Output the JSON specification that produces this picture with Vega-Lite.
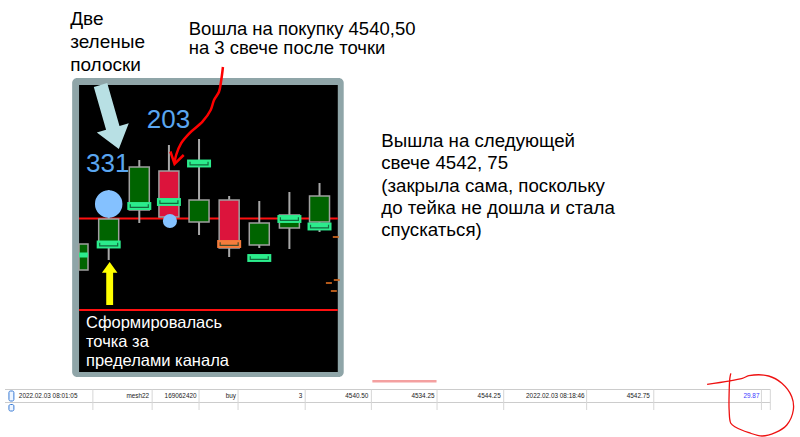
{
  "$schema": "https://vega.github.io/schema/vega-lite/v6.json",
  "width": 800,
  "height": 437,
  "autosize": "none",
  "padding": 0,
  "background": "white",
  "config": {"view": {"stroke": null}},
  "encoding": {
    "x": {"field": "x", "type": "quantitative", "scale": {"domain": [0, 800], "nice": false, "zero": false}, "axis": null},
    "y": {"field": "y", "type": "quantitative", "scale": {"domain": [0, 437], "nice": false, "zero": false, "reverse": true}, "axis": null}
  },
  "layer": [
    {
      "data": {"values": [{"x": 68, "x2": 343, "y": 78, "y2": 377}]},
      "mark": {"type": "rect", "fill": "#8fa5a8", "cornerRadius": 5},
      "encoding": {"x2": {"field": "x2"}, "y2": {"field": "y2"}}
    },
    {
      "data": {"values": [{"x": 75, "x2": 337, "y": 85, "y2": 372}]},
      "mark": {"type": "rect", "fill": "#000000"},
      "encoding": {"x2": {"field": "x2"}, "y2": {"field": "y2"}}
    },
    {
      "data": {"values": [{"x": 75, "x2": 337, "y": 218.5}, {"x": 75, "x2": 337, "y": 310}]},
      "mark": {"type": "rule", "color": "#ff1010", "strokeWidth": 2},
      "encoding": {"x2": {"field": "x2"}}
    },
    {
      "data": {"values": [
        {"x": 105, "y": 190, "y2": 260},
        {"x": 136, "y": 160, "y2": 223},
        {"x": 166, "y": 145, "y2": 225},
        {"x": 196.5, "y": 139, "y2": 235},
        {"x": 227, "y": 196, "y2": 257},
        {"x": 257.5, "y": 201, "y2": 248},
        {"x": 288, "y": 192, "y2": 249},
        {"x": 318.5, "y": 183, "y2": 232}
      ]},
      "mark": {"type": "rule", "color": "#a8a8a8", "strokeWidth": 2},
      "encoding": {"y2": {"field": "y2"}}
    },
    {
      "data": {"values": [
        {"x": 105, "y": 219, "y2": 247, "dir": "up"},
        {"x": 136, "y": 167, "y2": 210, "dir": "up"},
        {"x": 166, "y": 171, "y2": 217, "dir": "down"},
        {"x": 196.5, "y": 200, "y2": 222, "dir": "up"},
        {"x": 227, "y": 200, "y2": 248, "dir": "down"},
        {"x": 257.5, "y": 223, "y2": 245, "dir": "up"},
        {"x": 288, "y": 215, "y2": 228, "dir": "up"},
        {"x": 318.5, "y": 196, "y2": 222, "dir": "up"}
      ]},
      "mark": {"type": "bar", "width": 20, "stroke": "#a0a0a0", "strokeWidth": 1.5},
      "encoding": {
        "y2": {"field": "y2"},
        "color": {"field": "dir", "type": "nominal", "scale": {"domain": ["up", "down"], "range": ["#006400", "#dc143c"]}, "legend": null}
      }
    },
    {
      "data": {"values": [{"x": 79.5, "y": 244, "y2": 270}]},
      "mark": {"type": "bar", "width": 9, "fill": "#006400", "stroke": "#a0a0a0", "strokeWidth": 1.5},
      "encoding": {"y2": {"field": "y2"}}
    },
    {
      "data": {"values": [{"x": 75, "x2": 84, "y": 255}]},
      "mark": {"type": "rule", "color": "#2bec8c", "strokeWidth": 5},
      "encoding": {"x2": {"field": "x2"}}
    },
    {
      "data": {"values": [
        {"x": 105, "y": 244.5},
        {"x": 136, "y": 206},
        {"x": 166, "y": 202},
        {"x": 196.5, "y": 163.5},
        {"x": 257.5, "y": 258},
        {"x": 288, "y": 219},
        {"x": 318.5, "y": 226.5}
      ]},
      "mark": {"type": "point", "shape": "M -1 -0.33 L 1 -0.33 L 1 0.33 L -1 0.33 Z", "size": 576, "filled": true, "opacity": 1, "color": "#2bec8c"}
    },
    {
      "data": {"values": [{"x": 227, "y": 244}]},
      "mark": {"type": "point", "shape": "M -1 -0.33 L 1 -0.33 L 1 0.33 L -1 0.33 Z", "size": 576, "filled": true, "opacity": 1, "color": "#f47c3c"}
    },
    {
      "data": {"values": [
        {"x": 105, "y": 244.5},
        {"x": 136, "y": 206},
        {"x": 166, "y": 202},
        {"x": 196.5, "y": 163.5},
        {"x": 227, "y": 244},
        {"x": 257.5, "y": 258},
        {"x": 288, "y": 219},
        {"x": 318.5, "y": 226.5}
      ]},
      "mark": {"type": "point", "shape": "M -0.75 -0.15 L -0.75 0.12 L 0.75 0.12 L 0.75 -0.15", "size": 576, "filled": false, "opacity": 0.75, "strokeWidth": 1.2, "color": "#0b3d24"}
    },
    {
      "data": {"values": [{"x": 105, "y": 204}]},
      "mark": {"type": "circle", "size": 755, "color": "#84c1ff", "opacity": 1}
    },
    {
      "data": {"values": [{"x": 167, "y": 221}]},
      "mark": {"type": "circle", "size": 200, "color": "#84c1ff", "opacity": 1}
    },
    {
      "data": {"values": [{"x": 335, "y": 237}, {"x": 328, "y": 283}, {"x": 336, "y": 280}, {"x": 333, "y": 291}]},
      "mark": {"type": "point", "shape": "M -1 -0.3 L 1 -0.3 L 1 0.3 L -1 0.3 Z", "size": 36, "filled": true, "opacity": 1, "color": "#c8641e"}
    },
    {
      "data": {"values": [{"x": 104, "y": 172, "t": "331"}, {"x": 165.5, "y": 128, "t": "203"}]},
      "mark": {"type": "text", "align": "center", "baseline": "alphabetic", "fontSize": 26, "font": "Liberation Sans", "color": "#5aa6f0"},
      "encoding": {"text": {"field": "t"}}
    },
    {
      "data": {"values": [{"x": 106, "y": 117}]},
      "mark": {"type": "point", "shape": "M -0.21 -1 L 0.21 -1 L 0.21 0.34 L 0.5 0.34 L 0 1 L -0.5 0.34 L -0.21 0.34 Z", "size": 4420, "angle": 344, "filled": true, "opacity": 1, "color": "#b8e0e4"}
    },
    {
      "data": {"values": [{"x": 106, "y": 283.5}]},
      "mark": {"type": "point", "shape": "M -0.16 -1 L 0.16 -1 L 0.16 0.5 L 0.36 0.5 L 0 1 L -0.36 0.5 L -0.16 0.5 Z", "size": 1849, "angle": 180, "filled": true, "opacity": 1, "color": "#ffff00"}
    },
    {
      "data": {"values": [
        {"x": 220.7, "y": 67, "i": 0},
        {"x": 219, "y": 80, "i": 1},
        {"x": 216.7, "y": 91.7, "i": 2},
        {"x": 211.7, "y": 100, "i": 3},
        {"x": 208.3, "y": 110, "i": 4},
        {"x": 200, "y": 121.7, "i": 5},
        {"x": 186.7, "y": 133.3, "i": 6},
        {"x": 178.3, "y": 143.3, "i": 7},
        {"x": 173.3, "y": 155, "i": 8},
        {"x": 171.7, "y": 163, "i": 9}
      ]},
      "mark": {"type": "line", "color": "#ff0000", "strokeWidth": 2.5, "interpolate": "catmull-rom"},
      "encoding": {"order": {"field": "i", "type": "quantitative"}}
    },
    {
      "data": {"values": [
        {"x": 167.5, "y": 151.5, "i": 0},
        {"x": 171.7, "y": 164, "i": 1},
        {"x": 181, "y": 155, "i": 2}
      ]},
      "mark": {"type": "line", "color": "#ff0000", "strokeWidth": 2.5, "strokeJoin": "miter"},
      "encoding": {"order": {"field": "i", "type": "quantitative"}}
    },
    {
      "data": {"values": [
        {"x": 82, "y": 328, "t": "Сформировалась"},
        {"x": 82, "y": 347, "t": "точка за"},
        {"x": 82, "y": 366, "t": "пределами канала"}
      ]},
      "mark": {"type": "text", "align": "left", "baseline": "alphabetic", "fontSize": 16.5, "font": "Liberation Sans", "color": "#ffffff"},
      "encoding": {"text": {"field": "t"}}
    },
    {
      "data": {"values": [
        {"x": 66, "y": 25, "t": "Две"},
        {"x": 66, "y": 48, "t": "зеленые"},
        {"x": 66, "y": 71, "t": "полоски"}
      ]},
      "mark": {"type": "text", "align": "left", "baseline": "alphabetic", "fontSize": 19, "font": "Liberation Sans", "color": "#000000"},
      "encoding": {"text": {"field": "t"}}
    },
    {
      "data": {"values": [
        {"x": 186, "y": 35, "t": "Вошла на покупку 4540,50"},
        {"x": 186, "y": 54, "t": "на 3 свече после точки"}
      ]},
      "mark": {"type": "text", "align": "left", "baseline": "alphabetic", "fontSize": 18.5, "font": "Liberation Sans", "color": "#000000"},
      "encoding": {"text": {"field": "t"}}
    },
    {
      "data": {"values": [
        {"x": 381, "y": 147, "t": "Вышла на следующей"},
        {"x": 381, "y": 169, "t": "свече 4542, 75"},
        {"x": 381, "y": 191.5, "t": "(закрыла сама, поскольку"},
        {"x": 381, "y": 213.5, "t": "до тейка не дошла и стала"},
        {"x": 381, "y": 235.5, "t": "спускаться)"}
      ]},
      "mark": {"type": "text", "align": "left", "baseline": "alphabetic", "fontSize": 18.7, "font": "Liberation Sans", "color": "#000000"},
      "encoding": {"text": {"field": "t"}}
    },
    {
      "data": {"values": [{"x": 372, "x2": 437, "y": 380, "y2": 382.5}]},
      "mark": {"type": "rect", "fill": "#f4a0a0"},
      "encoding": {"x2": {"field": "x2"}, "y2": {"field": "y2"}}
    },
    {
      "data": {"values": [{"x": 0, "x2": 775, "y": 389.5}, {"x": 0, "x2": 775, "y": 402.5}]},
      "mark": {"type": "rule", "color": "#cccccc", "strokeWidth": 1},
      "encoding": {"x2": {"field": "x2"}}
    },
    {
      "data": {"values": [
        {"x": 89, "y": 389.5, "y2": 410}, {"x": 149, "y": 389.5, "y2": 410}, {"x": 196.5, "y": 389.5, "y2": 410},
        {"x": 236, "y": 389.5, "y2": 410}, {"x": 304, "y": 389.5, "y2": 410}, {"x": 371, "y": 389.5, "y2": 410},
        {"x": 437.5, "y": 389.5, "y2": 410}, {"x": 505, "y": 389.5, "y2": 410}, {"x": 589, "y": 389.5, "y2": 410},
        {"x": 657, "y": 389.5, "y2": 410}, {"x": 766, "y": 389.5, "y2": 410}, {"x": 775, "y": 389.5, "y2": 410}
      ]},
      "mark": {"type": "rule", "color": "#d6d6d6", "strokeWidth": 1},
      "encoding": {"y2": {"field": "y2"}}
    },
    {
      "data": {"values": [{"x": 4, "x2": 9, "y": 391, "y2": 401}, {"x": 4, "x2": 9, "y": 404.5, "y2": 411}]},
      "mark": {"type": "rect", "fill": "#eef5ff", "stroke": "#3a7bd5", "strokeWidth": 1, "cornerRadius": 1.5},
      "encoding": {"x2": {"field": "x2"}, "y2": {"field": "y2"}}
    },
    {
      "data": {"values": [{"x": 14, "y": 396, "t": "2022.02.03 08:01:05"}]},
      "mark": {"type": "text", "align": "left", "baseline": "middle", "fontSize": 6.4, "font": "Liberation Sans", "color": "#222222"},
      "encoding": {"text": {"field": "t"}}
    },
    {
      "data": {"values": [
        {"x": 146, "y": 396, "t": "mesh22"},
        {"x": 194, "y": 396, "t": "169062420"},
        {"x": 234, "y": 396, "t": "buy"},
        {"x": 301, "y": 396, "t": "3"},
        {"x": 368, "y": 396, "t": "4540.50"},
        {"x": 435, "y": 396, "t": "4534.25"},
        {"x": 502, "y": 396, "t": "4544.25"},
        {"x": 587, "y": 396, "t": "2022.02.03 08:18:46"},
        {"x": 653, "y": 396, "t": "4542.75"}
      ]},
      "mark": {"type": "text", "align": "right", "baseline": "middle", "fontSize": 6.4, "font": "Liberation Sans", "color": "#222222"},
      "encoding": {"text": {"field": "t"}}
    },
    {
      "data": {"values": [{"x": 764, "y": 396, "t": "29.87"}]},
      "mark": {"type": "text", "align": "right", "baseline": "middle", "fontSize": 6.4, "font": "Liberation Sans", "color": "#3a3aff"},
      "encoding": {"text": {"field": "t"}}
    },
    {
      "data": {"values": [
        {"x": 711, "y": 384.3, "i": 0},
        {"x": 746.7, "y": 378.3, "i": 1},
        {"x": 753.3, "y": 375.7, "i": 2},
        {"x": 773.3, "y": 376, "i": 3},
        {"x": 786.7, "y": 383.3, "i": 4},
        {"x": 796.7, "y": 396.7, "i": 5},
        {"x": 798.3, "y": 410, "i": 6},
        {"x": 791.7, "y": 425, "i": 7},
        {"x": 780, "y": 432.7, "i": 8},
        {"x": 766.7, "y": 436, "i": 9},
        {"x": 753.3, "y": 432.7, "i": 10},
        {"x": 740, "y": 427.3, "i": 11},
        {"x": 735, "y": 423.3, "i": 12},
        {"x": 733.3, "y": 410, "i": 13},
        {"x": 733.3, "y": 393.3, "i": 14},
        {"x": 734, "y": 378.3, "i": 15},
        {"x": 735, "y": 373.3, "i": 16}
      ]},
      "mark": {"type": "line", "color": "#ee1111", "strokeWidth": 1.3, "interpolate": "catmull-rom"},
      "encoding": {"order": {"field": "i", "type": "quantitative"}}
    }
  ]
}
